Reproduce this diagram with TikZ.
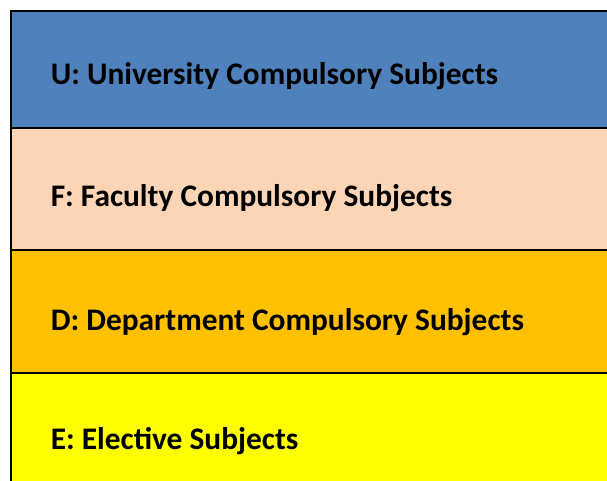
\documentclass[tikz,border=0pt]{standalone}
\usepackage{fontspec}
\setmainfont{Carlito}
\usetikzlibrary{positioning}
\definecolor{ublue}{HTML}{4F81BD}
\definecolor{fpeach}{HTML}{FBD5B5}
\definecolor{dorange}{HTML}{FFC000}
\definecolor{eyellow}{HTML}{FFFF00}
\begin{document}
\begin{tikzpicture}[x=1bp,y=1bp,line width=1.6bp,
  band/.style={draw=black},
  lbl/.style={anchor=west,inner sep=0pt,font={\fontsize{31.5}{36}\selectfont\bfseries}}]
\useasboundingbox (0,0) rectangle (607,481);
\clip (0,0) rectangle (607,481);
% bands, top to bottom
\draw[band,fill=ublue]   (11,470) rectangle (640,353);
\draw[band,fill=fpeach]  (11,353) rectangle (640,231);
\draw[band,fill=dorange] (11,231) rectangle (640,108);
\draw[band,fill=eyellow] (11,108) rectangle (640,-20);

% labels
\node[lbl] (univ) at (50,405) {U: University Compulsory Subjects};
\node[lbl] (fac)  at (50,283) {F: Faculty Compulsory Subjects};
\node[lbl] (dept) at (50,159) {D: Department Compulsory Subjects};
\node[lbl] (elec) at (50,40)  {E: Elective Subjects};
\end{tikzpicture}
\end{document}
